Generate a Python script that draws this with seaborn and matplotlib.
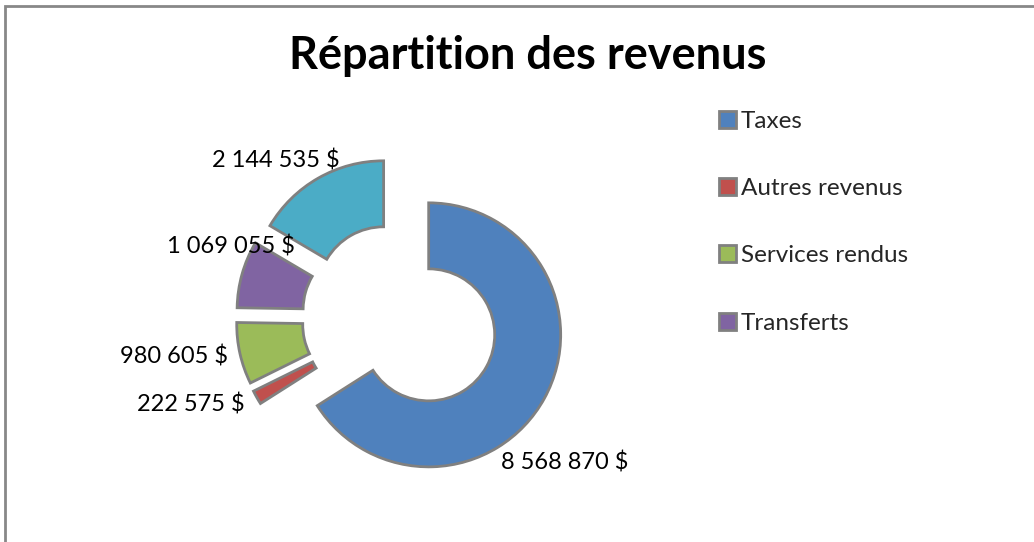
import matplotlib
matplotlib.use("Agg")
import matplotlib.pyplot as plt
import seaborn as sns
from matplotlib.patches import Rectangle

# ---- data ----
categories = ["Taxes", "Autres revenus", "Services rendus", "Transferts", ""]
values = [8568870, 222575, 980605, 1069055, 2144535]
value_labels = ["8 568 870 $", "222 575 $", "980 605 $", "1 069 055 $", "2 144 535 $"]
legend_categories = categories[:4]
colors = ["#4F81BD", "#C0504D", "#9BBB59", "#8064A2", "#4BACC6"]
title = "Répartition des revenus"

sns.set_theme(style="white")
plt.rcParams['font.family'] = ['Lato', 'DejaVu Sans']

W, H = 1034, 542
fig = plt.figure(figsize=(W / 100, H / 100), dpi=100)
ax = fig.add_axes([0, 0, 1, 1])

R = 132
cx, cy = 398, H - 318
wedges, _ = ax.pie(values, radius=R, center=(cx, cy), startangle=90, counterclock=False,
                   explode=[35, 30, 30, 30, 29], colors=colors,
                   wedgeprops=dict(width=R * 0.5, edgecolor="#808080", linewidth=2.0))
ax.set_xlim(0, W)
ax.set_ylim(0, H)
ax.set_aspect("equal")
ax.axis("off")

# value labels (pixel positions of text)
label_pos = [(565, 462), (191, 404), (174, 357), (231, 246), (276, 160)]
for (x, y), t in zip(label_pos, value_labels):
    ax.text(x, H - y, t, ha="center", va="center", fontsize=17, color="black")

fig.text(528 / W, 1 - 56 / H, title, ha="center", va="center", fontsize=32.5,
         fontweight="bold", color="black")

leg = fig.legend(wedges[:4], legend_categories, loc="upper left",
                 bbox_to_anchor=(719 / W, 1 - 111 / H), frameon=False,
                 fontsize=17.5, handlelength=0.7, handleheight=0.7, handletextpad=0.2,
                 labelspacing=1.9, borderaxespad=0, borderpad=0)

fig.add_artist(Rectangle((5 / W, -0.1), 1.2, 1.1 - 6 / H + 0.0, transform=fig.transFigure,
                         fill=False, edgecolor="#888888", linewidth=2))

fig.savefig("out.png", dpi=100)
